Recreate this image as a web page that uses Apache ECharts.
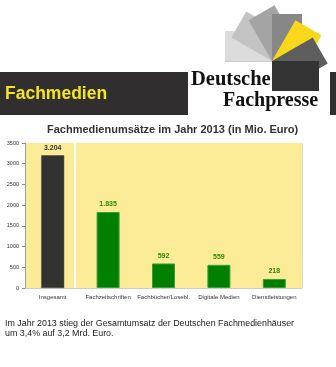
<!DOCTYPE html>
<html>
<head>
<meta charset="utf-8">
<script src="https://cdn.jsdelivr.net/npm/echarts@6/dist/echarts.min.js"></script>
<style>
  html, body { margin: 0; padding: 0; background: #ffffff; }
  #chart { width: 336px; height: 367px; }
</style>
</head>
<body>
<div id="chart"></div>
<script>
// Umsätze der Fachmedien 2013, in Mio. Euro
const categories = ['Insgesamt', 'Fachzeitschriften', 'Fachbücher/Losebl.', 'Digitale Medien', 'Dienstleistungen'];
const revenue = [3204, 1835, 592, 559, 218];
const valueLabels = ['3.204', '1.835', '592', '559', '218'];
const yTicks = [0, 500, 1000, 1500, 2000, 2500, 3000, 3500];

const chart = echarts.init(document.getElementById('chart'), null, { renderer: 'canvas' });

const GRID = { left: 25, right: 34, top: 143, bottom: 79 };
const PLOT_YELLOW = '#fdec97';

// Logo fan: rectangles rotated around a common corner
const pivot = [272, 61];
const fanColors = ['#dcdcdc', '#c3c3c3', '#a4a4a4', '#878787', '#f9d81c', '#5e5e5e', '#333333'];
function fanRect(deg) {
  const t = deg * Math.PI / 180;
  const d1 = [-Math.cos(t) * 47, -Math.sin(t) * 47];
  const d2 = [Math.sin(t) * 30, -Math.cos(t) * 30];
  return [
    pivot,
    [pivot[0] + d1[0], pivot[1] + d1[1]],
    [pivot[0] + d1[0] + d2[0], pivot[1] + d1[1] + d2[1]],
    [pivot[0] + d2[0], pivot[1] + d2[1]]
  ];
}
const fan = fanColors.map((c, i) => ({
  type: 'polygon',
  shape: { points: fanRect(i * 30) },
  style: { fill: c },
  z: 10 + i
}));

const plotW = 336 - GRID.left - GRID.right;
const plotH = 367 - GRID.top - GRID.bottom;

const option = {
  animation: false,
  title: {
    text: 'Fachmedienumsätze im Jahr 2013 (in Mio. Euro)',
    left: 47,
    top: 124,
    padding: 0,
    textStyle: { fontFamily: 'Liberation Sans, Arial, sans-serif', fontSize: 11, fontWeight: 'bold', color: '#333333' }
  },
  grid: GRID,
  xAxis: {
    type: 'category',
    data: categories,
    axisLine: { lineStyle: { color: '#cccccc', width: 1 } },
    axisTick: { show: false },
    axisLabel: { fontFamily: 'Liberation Sans, Arial, sans-serif', fontSize: 6, color: '#333333', margin: 6, interval: 0 }
  },
  yAxis: {
    type: 'value',
    min: 0,
    max: 3500,
    interval: 500,
    splitLine: { show: false },
    axisLine: { show: true, lineStyle: { color: '#a0a0a0', width: 1 } },
    axisTick: { show: true, length: 3, lineStyle: { color: '#888888' } },
    axisLabel: {
      fontFamily: 'Liberation Sans, Arial, sans-serif', fontSize: 5.5, color: '#333333', margin: 6,
      formatter: v => yTicks.includes(v) ? String(v) : ''
    }
  },
  graphic: [
    // plot background split into two panels
    { type: 'rect', shape: { x: GRID.left, y: GRID.top, width: 74 - GRID.left, height: plotH }, style: { fill: PLOT_YELLOW }, z: -10 },
    { type: 'rect', shape: { x: 76, y: GRID.top, width: GRID.left + plotW - 76, height: plotH }, style: { fill: PLOT_YELLOW }, z: -10 },
    { type: 'line', shape: { x1: GRID.left + plotW + 0.5, y1: GRID.top, x2: GRID.left + plotW + 0.5, y2: GRID.top + plotH }, style: { stroke: '#d8d8d8', lineWidth: 1 }, z: -9 },
    // header bands
    { type: 'rect', shape: { x: 0, y: 72, width: 188, height: 43 }, style: { fill: '#312e2f' }, z: 5 },
    { type: 'rect', shape: { x: 330, y: 72, width: 6, height: 43 }, style: { fill: '#312e2f' }, z: 5 },
    {
      type: 'text', left: 5, top: 85, z: 6,
      style: { text: 'Fachmedien', fill: '#f7e51b', font: 'bold 17.5px "Liberation Sans", Arial, sans-serif' }
    },
    ...fan,
    { type: 'line', shape: { x1: 225, y1: 61, x2: 272, y2: 61 }, style: { stroke: '#9a9a9a', lineWidth: 1 }, z: 9 },
    {
      type: 'text', x: 191, y: 90, z: 20,
      style: { text: 'Deutsche', fill: '#111111', font: 'bold 20.5px "Liberation Serif", "Times New Roman", serif', textVerticalAlign: 'bottom' }
    },
    {
      type: 'text', x: 223, y: 111, z: 20,
      style: { text: 'Fachpresse', fill: '#111111', font: 'bold 20px "Liberation Serif", "Times New Roman", serif', textVerticalAlign: 'bottom' }
    },
    // caption below the chart
    {
      type: 'text', x: 5, y: 319, z: 20,
      style: {
        text: 'Im Jahr 2013 stieg der Gesamtumsatz der Deutschen Fachmedienhäuser\num 3,4% auf 3,2 Mrd. Euro.',
        fill: '#222222', font: '8.9px "Liberation Sans", Arial, sans-serif', lineHeight: 10
      }
    }
  ],
  series: [{
    type: 'bar',
    barWidth: 23,
    data: revenue.map((v, i) => ({
      value: v,
      itemStyle: i === 0
        ? { color: '#323232', borderColor: '#444444', borderWidth: 0.5 }
        : { color: '#008000', borderColor: '#3c9c3c', borderWidth: 1 },
      label: { color: i === 0 ? '#333333' : '#2b8a00' }
    })),
    label: {
      show: true,
      position: 'top',
      distance: 4,
      fontFamily: 'Liberation Sans, Arial, sans-serif',
      fontSize: 7,
      fontWeight: 'bold',
      formatter: p => valueLabels[p.dataIndex]
    }
  }]
};

chart.setOption(option);
</script>
</body>
</html>
